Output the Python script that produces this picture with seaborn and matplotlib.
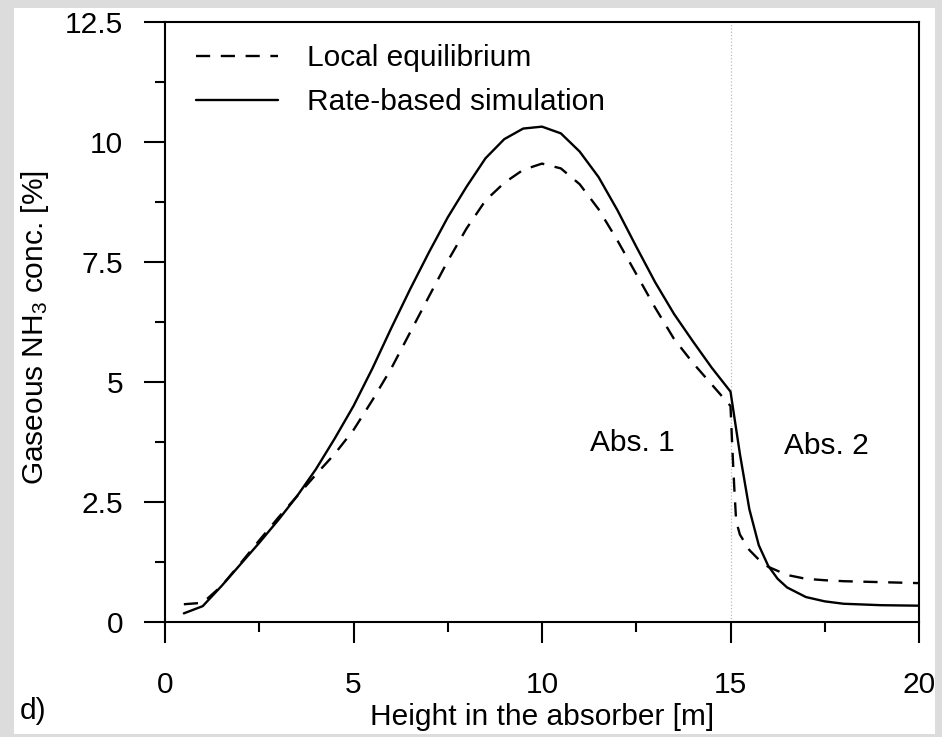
import matplotlib
matplotlib.use("Agg")
import matplotlib.pyplot as plt
from matplotlib.patches import Rectangle
from matplotlib.ticker import MultipleLocator, FuncFormatter
import numpy as np
import pandas as pd
import seaborn as sns

# Gas-phase NH3 profile along the two absorber sections
height_rate = [0.5, 1.0, 1.5, 2.0, 2.5, 3.0, 3.5, 4.0, 4.5, 5.0, 5.5, 6.0, 6.5, 7.0,
               7.5, 8.0, 8.5, 9.0, 9.5, 10.0, 10.5, 11.0, 11.5, 12.0, 12.5, 13.0,
               13.5, 14.0, 14.5, 15.0, 15.25, 15.5, 15.75, 16.0, 16.25, 16.5, 17.0,
               17.5, 18.0, 19.0, 20.0]
nh3_rate = [0.18, 0.33, 0.75, 1.2, 1.65, 2.12, 2.62, 3.18, 3.82, 4.5, 5.28, 6.12,
            6.93, 7.7, 8.43, 9.07, 9.66, 10.06, 10.28, 10.32, 10.18, 9.8, 9.27,
            8.58, 7.82, 7.08, 6.42, 5.85, 5.3, 4.8, 3.5, 2.35, 1.6, 1.17, 0.9,
            0.72, 0.52, 0.43, 0.38, 0.35, 0.34]

height_eq = [0.5, 1.0, 1.5, 2.0, 2.5, 3.0, 3.5, 4.0, 4.5, 5.0, 5.5, 6.0, 6.5, 7.0,
             7.5, 8.0, 8.5, 9.0, 9.5, 10.0, 10.5, 11.0, 11.5, 12.0, 12.5, 13.0,
             13.5, 14.0, 14.5, 15.0, 15.05, 15.1, 15.15, 15.25, 15.5, 15.75, 16.0,
             16.5, 17.0, 17.5, 18.0, 19.0, 20.0]
nh3_eq = [0.37, 0.4, 0.75, 1.22, 1.7, 2.17, 2.62, 3.07, 3.5, 4.0, 4.62, 5.28, 6.03,
          6.78, 7.52, 8.2, 8.78, 9.15, 9.42, 9.55, 9.45, 9.12, 8.6, 7.95, 7.25,
          6.55, 5.9, 5.4, 4.95, 4.5, 3.6, 2.8, 2.1, 1.82, 1.5, 1.3, 1.15, 0.98,
          0.9, 0.87, 0.85, 0.83, 0.81]

x_ticks = [0, 5, 10, 15, 20]
y_ticks = [0, 2.5, 5, 7.5, 10, 12.5]
section_boundary = 15.0

FS = 21.5

sns.set_theme(style="ticks")
plt.rcParams["font.family"] = ["Liberation Sans", "DejaVu Sans"]
plt.rcParams["mathtext.fontset"] = "custom"
plt.rcParams["mathtext.rm"] = "Liberation Sans"
plt.rcParams["mathtext.it"] = "Liberation Sans:italic"
plt.rcParams["text.color"] = "black"
plt.rcParams["axes.labelcolor"] = "black"

fig = plt.figure(figsize=(9.42, 7.37), dpi=100, facecolor="#dcdcdc")
fig.patches.append(Rectangle((14 / 942, 3 / 737), 921 / 942, 726 / 737,
                             transform=fig.transFigure, facecolor="white",
                             edgecolor="none", zorder=-5))
ax = fig.add_axes([165 / 942, 115 / 737, 754 / 942, 600 / 737])
ax.set_zorder(2)
ax.set_facecolor("white")

eq_df = pd.DataFrame({"height": height_eq, "nh3": nh3_eq})
rate_df = pd.DataFrame({"height": height_rate, "nh3": nh3_rate})

ax.axvline(section_boundary, color="#bdbdbd", lw=0.9, ls=":", zorder=1)

sns.lineplot(data=eq_df, x="height", y="nh3", ax=ax, color="black", lw=1.7,
             linestyle=(0, (6, 4.5)), label="Local equilibrium", zorder=3)
sns.lineplot(data=rate_df, x="height", y="nh3", ax=ax, color="black", lw=1.7,
             label="Rate-based simulation", zorder=3)

ax.set_xlim(0, 20)
ax.set_ylim(0, 12.5)
ax.set_xticks(x_ticks)
ax.set_yticks(y_ticks)
ax.xaxis.set_minor_locator(MultipleLocator(2.5))
ax.yaxis.set_minor_locator(MultipleLocator(1.25))
fmt = FuncFormatter(lambda v, p: f"{v:g}")
ax.xaxis.set_major_formatter(fmt)
ax.yaxis.set_major_formatter(fmt)

for side in ["left", "right", "top", "bottom"]:
    ax.spines[side].set_visible(True)
    ax.spines[side].set_linewidth(1.5)
    ax.spines[side].set_color("black")

ax.tick_params(axis="both", which="major", direction="out", length=15, width=1.5,
               labelsize=FS, colors="black")
ax.tick_params(axis="both", which="minor", direction="out", length=7.5, width=1.5,
               colors="black")
ax.tick_params(axis="x", which="major", pad=20)
ax.tick_params(axis="y", which="major", pad=15)

ax.set_xlabel("Height in the absorber [m]", fontsize=FS, color="black", va="center")
ax.xaxis.set_label_coords(0.5, -0.158)
ax.set_ylabel("Gaseous NH$_3$ conc. [%]", fontsize=FS, color="black", va="center")
ax.yaxis.set_label_coords(-0.172, 0.49)

ax.text(12.39, 3.73, "Abs. 1", fontsize=FS, ha="center", va="center")
ax.text(17.53, 3.67, "Abs. 2", fontsize=FS, ha="center", va="center")
fig.text(20 / 942, 1 - 711 / 737, "d)", fontsize=FS, ha="left", va="center")

leg = ax.legend(loc="upper left", bbox_to_anchor=(0.041, 0.963), frameon=False,
                fontsize=FS, handlelength=2.74, handletextpad=0.97, labelspacing=0.53,
                borderpad=0, borderaxespad=0)

fig.savefig("out.png", dpi=100, facecolor=fig.get_facecolor())
